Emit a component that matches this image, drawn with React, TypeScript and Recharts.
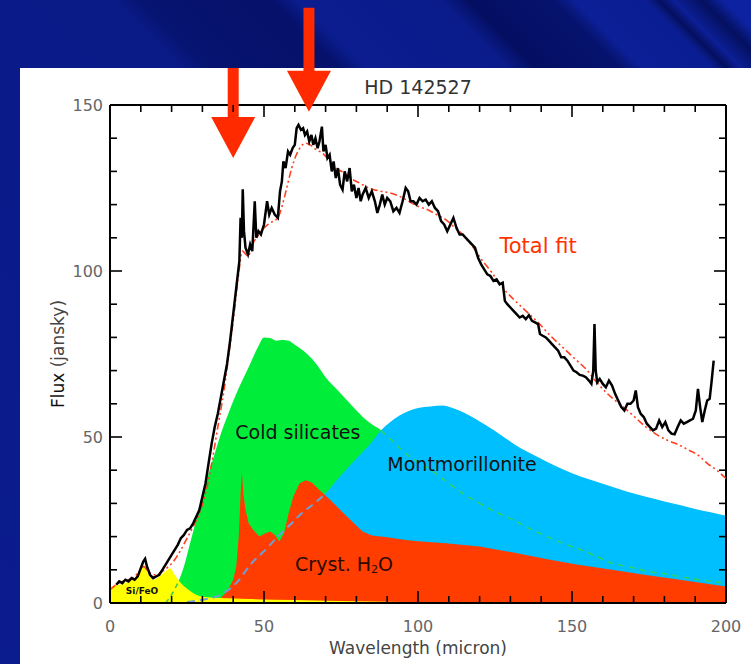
import React from "react";
import {
  ComposedChart, Area, Line, XAxis, YAxis, ReferenceLine, ReferenceDot, Label,
} from "recharts";

// ISO spectrum of HD 142527 with the dust model components
const W = 751;
const H = 664;
const PLOT = { top: 105, bottom: 603, left: 110, right: 726 };
const X_AXIS_H = 45;
const Y_AXIS_W = 60;
const FONT = "DejaVu Sans, sans-serif";

const xTicks = [0, 10, 20, 30, 40, 50, 60, 70, 80, 90, 100, 110, 120, 130, 140, 150, 160, 170, 180, 190, 200];
const yTicks = [0, 10, 20, 30, 40, 50, 60, 70, 80, 90, 100, 110, 120, 130, 140, 150];

// [wavelength (micron), flux (Jy)]
const spectrum: [number, number][] = [
  [2, 5.5], [3, 6.5], [4, 6], [5, 7], [6, 6.5], [7, 7.5], [8, 7], [9, 8], [10, 10.5], [10.8, 12.5],
  [11.4, 13.3], [12, 11], [13, 8.5], [14, 7.5], [15, 8], [16, 8.5], [17, 10], [18, 11.5], [19, 13], [20, 14.5],
  [21, 16], [22, 17.5], [23, 19.5], [24, 20.5], [25, 22], [26, 22.5], [27, 24], [28, 26], [29, 28], [30, 32],
  [31, 36], [32, 42], [33, 48], [34, 53], [35, 57], [36, 62], [37, 67], [38, 72], [39, 79], [40, 87],
  [41, 95], [42, 103], [42.4, 116], [42.8, 110], [43.1, 124.6], [43.5, 112], [44, 107], [44.8, 105], [45.5, 108], [46.2, 106],
  [47, 121], [47.5, 110], [48.2, 112], [49, 111], [50, 114], [51, 121], [51.7, 117], [52.5, 119], [53.5, 117], [54.5, 116],
  [55.2, 124], [55.8, 127], [56.3, 133], [57, 131], [57.8, 136], [58.5, 135], [59.3, 137], [60, 138], [60.6, 143], [61.2, 144],
  [62, 142.5], [62.7, 143], [63.3, 141], [64, 142], [64.7, 139], [65.4, 141], [66, 138], [66.7, 140], [67.4, 137], [68, 139],
  [68.8, 143.5], [69.3, 136], [70, 138], [70.6, 134], [71.3, 135], [72, 130], [72.6, 133], [73.3, 128], [74, 131], [74.7, 126],
  [75.5, 124.5], [76.2, 130], [77, 127], [77.8, 131], [78.5, 124], [79.2, 126], [80, 122], [80.7, 125], [81.4, 121], [82, 123],
  [83, 125], [84, 122], [85, 124], [86, 121], [86.8, 117.5], [87.6, 120], [88.4, 123], [89.2, 120], [90, 122], [91, 121],
  [92, 118], [93, 119], [94, 117.5], [95, 121], [96, 125], [96.8, 124], [97.6, 121], [98.5, 121], [99.5, 120], [100.5, 122],
  [101.5, 121], [102.5, 121.5], [103.5, 120], [104.5, 121], [105.5, 119], [106.5, 118], [107.5, 115], [108.5, 114], [109.5, 112], [110.5, 114],
  [111.5, 116], [112.5, 113], [113.5, 111], [114.5, 111], [115.5, 110], [116.5, 109], [117.5, 108], [118.5, 107], [119.5, 104], [120.5, 102],
  [121.5, 100.5], [122.5, 99], [123.5, 98.5], [124.5, 97], [125.5, 97.5], [126.5, 96], [127.5, 96.5], [128.2, 91], [129, 90], [130, 89],
  [131, 88], [132, 87], [133, 86], [134, 86.5], [135, 85.5], [136, 86.7], [137, 85], [138, 84.5], [139, 84], [139.6, 81],
  [140.5, 80.5], [141.5, 80], [142.5, 79], [143.5, 78], [144.5, 77], [145.5, 76], [146.5, 74], [147.5, 74], [148.5, 73], [149.5, 71.5],
  [150.5, 70], [151.5, 69.5], [152.5, 68.7], [153.5, 68.5], [154.5, 68], [155.5, 67], [156.3, 66], [156.9, 70], [157.3, 84], [157.7, 70],
  [158.2, 66.5], [159, 67.5], [160, 66], [161, 65], [162, 67], [163, 65.5], [164, 63], [165, 61], [166, 59], [167, 58],
  [168, 60], [169, 60], [170, 61], [170.7, 64], [171.4, 59], [172.3, 57], [173.3, 56], [174.3, 54], [175.3, 53], [176.3, 52],
  [177.3, 52.5], [178.3, 55], [179.3, 53], [180.3, 54.5], [181.3, 52], [182.3, 51], [183.3, 50.8], [184.3, 53], [185.3, 55], [186.3, 54],
  [187.3, 54.5], [188.3, 55], [189.3, 55.5], [190.2, 58], [190.9, 64.5], [191.6, 59], [192.3, 54.5], [193.1, 58], [193.9, 61], [194.7, 61.5],
  [195.3, 66.5], [196, 73],
];

const totalFit: [number, number][] = [
  [0, 4], [2, 5.5], [4, 6.5], [6, 7], [8, 8], [10, 10], [11, 11], [12, 10], [13, 9], [14, 8.5],
  [15, 8.5], [17, 9.5], [19, 11], [21, 13], [23, 16], [25, 19.5], [27, 23], [29, 27], [31, 33], [33, 42],
  [35, 53], [37, 64], [39, 78], [40, 85], [41.5, 97], [43, 106], [44.8, 104.5], [46.5, 108.5], [48, 110.5], [50, 113],
  [52, 114.5], [54.5, 116], [56, 120], [57.5, 125.5], [59, 131], [60.5, 135], [62, 137.5], [63.5, 138.5], [65, 138], [67, 136.5],
  [69, 135.5], [71, 133.5], [73.5, 131], [76, 129.5], [78, 128], [81, 126.5], [84, 125], [88, 124], [91, 123.5], [94, 122.5],
  [97, 121], [100, 119.5], [103, 118.5], [106, 117], [109, 115.5], [112, 113], [115, 110.5], [118, 107], [121, 103], [124, 99.5],
  [127, 95.5], [131, 91.5], [135, 88], [139, 84.5], [143, 80.5], [147, 77], [151, 73.5], [155, 70], [158, 66.5], [161, 63.5],
  [164, 61], [168, 58], [171, 55.5], [174, 53], [177, 51], [181, 49], [185, 47.5], [188, 46], [191, 44.5], [194, 42],
  [197, 40], [200, 37.5],
];

const siFeO: [number, number][] = [
  [0, 5], [3, 5.5], [6, 6.5], [8, 7.5], [9.5, 9.5], [10.8, 11.5], [12.5, 8.5], [14, 7], [16, 8], [18, 9.5],
  [19.5, 10.5], [21, 8.5], [23, 6], [25.5, 4], [28, 2.5], [31, 1.8], [36, 1.5], [45, 1.2], [60, 0.9], [80, 0.5],
  [100, 0.2],
];

const coldSilicates: [number, number][] = [
  [18, 0], [20, 2.5], [22, 6], [24, 11], [26, 18], [28, 25], [30, 32], [32, 39], [34, 45], [36, 51],
  [38, 56], [41, 63], [45, 71], [48, 77], [50, 80], [52, 79.8], [54, 79], [56, 79.2], [58, 79], [60, 77.8],
  [62, 76.5], [64, 75], [67, 72], [70, 68], [74, 64], [77, 61], [80, 58], [84, 54.5], [88, 52], [92, 48.5],
  [96, 45], [100, 42.5], [105, 39.5], [110, 36], [115, 32.8], [120, 30], [125, 27.5], [131, 25], [136, 22.5], [142, 20],
  [147, 18], [153, 16], [158, 14], [163, 12], [169, 10.8], [175, 9.5], [180, 8.8], [186, 7.8], [193, 6.8], [200, 6],
];

const montmorillonite: [number, number][] = [
  [25, 0.3], [30, 1], [36, 2.5], [41, 6], [46, 12], [51, 16.5], [55, 20.5], [59, 24], [62, 26.8], [67, 30.5],
  [70, 33], [75, 38.5], [80, 43.5], [85, 48.5], [88, 52], [91, 54.5], [94, 56.5], [97, 57.8], [100, 58.7], [104, 59.2],
  [108, 59.5], [111, 58.8], [115, 57.3], [119, 55.3], [123, 53], [127, 50.5], [131, 48], [136, 45.3], [142, 42.5], [147, 40.3],
  [153, 38], [158, 36.5], [163, 35], [168, 33.5], [174, 32], [180, 30.6], [185, 29.5], [190, 28.3], [195, 27.3], [200, 26.3],
];

const crystH2O: [number, number][] = [
  [34, 0], [36, 1.5], [38, 3.5], [40, 7], [41, 11], [41.8, 20], [42.4, 33], [42.8, 39.5], [43.3, 33], [44, 28],
  [45, 24], [46.5, 22], [48.5, 20], [50.5, 21], [52, 21.5], [53.5, 20.5], [55, 18.5], [56.5, 21], [58, 27], [59.5, 32],
  [61.5, 36], [63.5, 37], [65.5, 36.3], [68, 34], [71.5, 31], [77, 26], [82, 21.5], [85, 20.3], [90, 19.8], [96, 19],
  [100, 18.6], [109, 18], [120, 17], [131, 15.2], [142, 13.2], [152, 11.5], [163, 10], [174, 8.4], [185, 7], [200, 5],
];

// arrows marking the 43 and 62 micron features (tip position in data units)
const arrows = [
  { x: 40, y: 134, shaft: 49 },
  { x: 64.6, y: 148, shaft: 63 },
];

const labels = [
  { x: 61, y: 51.5, text: "Cold silicates", size: 19, color: "#111" },
  { x: 114.3, y: 42, text: "Montmorillonite", size: 19, color: "#111" },
  { x: 139, y: 107.5, text: "Total fit", size: 21, color: "#ff3300" },
  { x: 10.4, y: 3.6, text: "Si/FeO", size: 9, color: "#111" },
];

const toPts = (arr: [number, number][]) => arr.map(([x, y]) => ({ x, y }));

const spectrumPts = toPts(spectrum);
const fitPts = toPts(totalFit);
const yellowPts = toPts(siFeO);
const greenPts = toPts(coldSilicates);
const bluePts = toPts(montmorillonite);
const redPts = toPts(crystH2O);

// parts of the component curves that are hidden under other fills
const greenHiddenLow = greenPts.filter((p) => p.x <= 22);
const greenHiddenHigh = greenPts.filter((p) => p.x >= 88);
const blueHidden = bluePts.filter((p) => p.x <= 70);
const blueFill = bluePts.filter((p) => p.x >= 62);

const XTick = (props: any) => {
  const { x, payload } = props;
  const v = payload.value;
  const major = v % 50 === 0;
  const len = major ? 12 : 7;
  return (
    <g>
      <line x1={x} x2={x} y1={PLOT.bottom} y2={PLOT.bottom - len} stroke="#000" strokeWidth={1.6} />
      <line x1={x} x2={x} y1={PLOT.top} y2={PLOT.top + len} stroke="#000" strokeWidth={1.6} />
      {major && (
        <text x={x} y={PLOT.bottom + 29} textAnchor="middle" fill="#666" fontSize={16} fontFamily={FONT}>
          {v}
        </text>
      )}
    </g>
  );
};

const YTick = (props: any) => {
  const { y, payload } = props;
  const v = payload.value;
  const major = v % 50 === 0;
  const len = major ? 12 : 7;
  return (
    <g>
      <line x1={PLOT.left} x2={PLOT.left + len} y1={y} y2={y} stroke="#000" strokeWidth={1.6} />
      <line x1={PLOT.right} x2={PLOT.right - len} y1={y} y2={y} stroke="#000" strokeWidth={1.6} />
      {major && (
        <text x={PLOT.left - 7} y={y + 6} textAnchor="end" fill="#666" fontSize={16} fontFamily={FONT}>
          {v}
        </text>
      )}
    </g>
  );
};

const Arrow = ({ cx, cy, shaft }: { cx: number; cy: number; shaft: number }) => {
  const headH = 41;
  const headW = 22;
  const sw = 5.5;
  const top = cy - headH;
  const pts = [
    [cx, cy], [cx - headW, top], [cx - sw, top], [cx - sw, top - shaft],
    [cx + sw, top - shaft], [cx + sw, top], [cx + headW, top],
  ].map((p) => p.join(",")).join(" ");
  return <polygon points={pts} fill="#ff2a00" />;
};

// slide background: navy with diagonal streaks
const slideBg =
  "linear-gradient(45deg, #0b1c8e 0%, #0a1a88 47%, #0a1a86 55%, #061370 57%, #05116a 66%, #0b1d90 68%, #0a1b8a 78%, #040f62 80%, #06136e 86%, #0c1f96 87.5%, #0b1d92 92.5%, #04105f 93.5%, #0c1f96 94.5%, #04105f 96.5%, #0d22a0 98%, #0d22a0 100%)";

export default function App() {
  return (
    <div
      style={{
        position: "absolute", left: 0, top: 0, width: W, height: H, overflow: "hidden",
        background: slideBg,
      }}
    >
      <div style={{ position: "absolute", left: 20, top: 68, right: 0, bottom: 0, background: "#fff" }} />
      <div
        style={{
          position: "absolute", left: 0, top: 76, width: 836, textAlign: "center",
          fontFamily: FONT, fontSize: 19, color: "#333",
        }}
      >
        HD 142527
      </div>
      <div style={{ position: "absolute", left: 0, top: 0 }}>
        <ComposedChart
          width={W}
          height={H}
          margin={{
            top: PLOT.top,
            right: W - PLOT.right,
            bottom: H - PLOT.bottom - X_AXIS_H,
            left: PLOT.left - Y_AXIS_W,
          }}
        >
          <XAxis
            type="number"
            dataKey="x"
            domain={[0, 200]}
            allowDataOverflow
            ticks={xTicks}
            interval={0}
            height={X_AXIS_H}
            tickSize={0}
            tickMargin={0}
            tickLine={false}
            axisLine={{ stroke: "#000", strokeWidth: 2 }}
            tick={(p: any) => <XTick {...p} />}
          >
            <Label
              content={(p: any) => {
                const vb = p.viewBox;
                return (
                  <text x={vb.x + vb.width / 2} y={vb.y + 51} textAnchor="middle" fill="#444" fontSize={17} fontFamily={FONT}>
                    Wavelength (micron)
                  </text>
                );
              }}
            />
          </XAxis>
          <YAxis
            type="number"
            domain={[0, 150]}
            allowDataOverflow
            ticks={yTicks}
            interval={0}
            width={Y_AXIS_W}
            tickSize={0}
            tickMargin={0}
            tickLine={false}
            axisLine={{ stroke: "#000", strokeWidth: 2 }}
            tick={(p: any) => <YTick {...p} />}
          >
            <Label
              content={(p: any) => {
                const vb = p.viewBox;
                const cx = vb.x + 8;
                const cy = vb.y + vb.height / 2;
                return (
                  <text x={cx} y={cy} transform={`rotate(-90 ${cx} ${cy})`} textAnchor="middle" dominantBaseline="central" fill="#444" fontSize={17} fontFamily={FONT}>
                    <tspan fill="#111">Flux</tspan> (jansky)
                  </text>
                );
              }}
            />
          </YAxis>

          <ReferenceLine y={150} stroke="#000" strokeWidth={2} />
          <ReferenceLine x={200} stroke="#000" strokeWidth={2} />

          <Area data={greenPts} dataKey="y" type="monotone" stroke="none" fill="#00ee3a" fillOpacity={1} isAnimationActive={false} />
          <Area data={blueFill} dataKey="y" type="monotone" stroke="none" fill="#00bfff" fillOpacity={1} isAnimationActive={false} />
          <Area data={redPts} dataKey="y" type="linear" stroke="none" fill="#ff3d00" fillOpacity={1} isAnimationActive={false} />
          <Area data={yellowPts} dataKey="y" type="monotone" stroke="none" fill="#ffff00" fillOpacity={1} isAnimationActive={false} />

          <Line data={greenHiddenLow} dataKey="y" type="monotone" stroke="#33cc55" strokeWidth={1.5} strokeDasharray="5 4" dot={false} activeDot={false} isAnimationActive={false} />
          <Line data={greenHiddenHigh} dataKey="y" type="monotone" stroke="#2fd35e" strokeWidth={1.5} strokeDasharray="6 5" dot={false} activeDot={false} isAnimationActive={false} />
          <Line data={blueHidden} dataKey="y" type="monotone" stroke="#6c9fd6" strokeWidth={2} strokeDasharray="8 5" dot={false} activeDot={false} isAnimationActive={false} />

          <Line data={fitPts} dataKey="y" type="monotone" stroke="#ff4020" strokeWidth={1.6} strokeDasharray="7 3 2 3 2 3" dot={false} activeDot={false} isAnimationActive={false} />
          <Line data={spectrumPts} dataKey="y" type="linear" stroke="#000" strokeWidth={2.5} strokeLinejoin="miter" dot={false} activeDot={false} isAnimationActive={false} />

          {labels.map((l) => (
            <ReferenceDot
              key={l.text}
              x={l.x}
              y={l.y}
              r={0}
              ifOverflow="visible"
              shape={(p: any) => (
                <text x={p.cx} y={p.cy} textAnchor="middle" dominantBaseline="central" fill={l.color} fontSize={l.size} fontFamily={FONT} fontWeight={l.size < 12 ? "bold" : "normal"}>
                  {l.text}
                </text>
              )}
            />
          ))}
          <ReferenceDot
            x={76}
            y={11.7}
            r={0}
            ifOverflow="visible"
            shape={(p: any) => (
              <text x={p.cx} y={p.cy} textAnchor="middle" dominantBaseline="central" fill="#2a0a00" fontSize={19} fontFamily={FONT}>
                Cryst. H<tspan fontSize={11} dy={5}>2</tspan><tspan dy={-5}>O</tspan>
              </text>
            )}
          />

          {arrows.map((a, i) => (
            <ReferenceDot
              key={i}
              x={a.x}
              y={a.y}
              r={0}
              ifOverflow="visible"
              shape={(p: any) => <Arrow cx={p.cx} cy={p.cy} shaft={a.shaft} />}
            />
          ))}
        </ComposedChart>
      </div>
    </div>
  );
}
